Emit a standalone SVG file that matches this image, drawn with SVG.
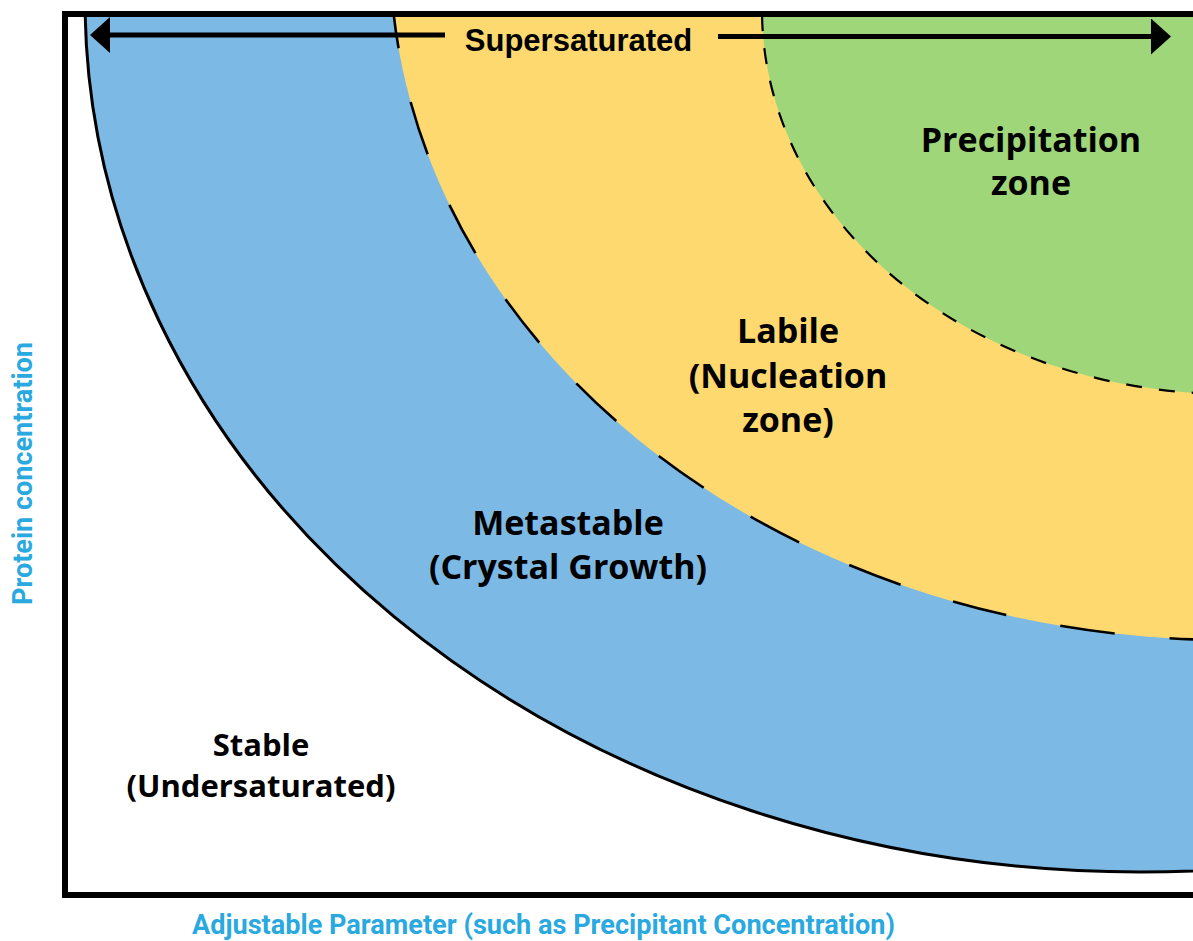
<svg xmlns="http://www.w3.org/2000/svg" width="1193" height="941" viewBox="0 0 1193 941">
  <style>
    .zone-label { font-family: "Open Sans", "Noto Sans", "Liberation Sans", sans-serif; font-weight: 700; fill: #000; text-anchor: middle; }
    .axis-label { font-family: Roboto, "Liberation Sans", sans-serif; font-weight: 700; fill: #2aa9e0; font-size: 27px; }
    .edge-solid { stroke: #000; stroke-width: 3; }
    .edge-long { stroke: #000; stroke-width: 2.6; stroke-dasharray: 55 55; }
    .edge-short { stroke: #000; stroke-width: 2.2; stroke-dasharray: 16 17; }
    .arrow-line { stroke: #000; stroke-width: 5; fill: none; }
  </style>
  <defs>
    <clipPath id="plotArea">
      <rect x="65" y="14" width="1140" height="881"/>
    </clipPath>
    <marker id="arrowHead" viewBox="0 0 20 36" markerWidth="20" markerHeight="36" refX="10" refY="18" orient="auto" markerUnits="userSpaceOnUse">
      <path d="M0,0 L20,18 L0,36 Z" fill="#000"/>
    </marker>
  </defs>

  <rect width="1193" height="941" fill="#fff"/>

  <!-- solubility zones, nested ellipses clipped to the plot frame -->
  <g clip-path="url(#plotArea)">
    <g id="metastable-zone">
      <ellipse cx="1140" cy="0" rx="1055" ry="872" fill="#7cb9e4" class="edge-solid"/>
    </g>
    <g id="labile-zone">
      <ellipse cx="1230" cy="-50" rx="840" ry="690" fill="#fed96f" class="edge-long"/>
    </g>
    <g id="precipitation-zone">
      <ellipse cx="1230" cy="10" rx="468" ry="384" fill="#a0d67a" class="edge-short"/>
    </g>
  </g>

  <!-- plot frame -->
  <g id="frame">
    <path d="M1200,14 H65 V895 H1200" fill="none" stroke="#000" stroke-width="6"/>
  </g>

  <!-- supersaturated range arrows -->
  <g id="connectors">
    <line x1="445" y1="35" x2="100" y2="35" class="arrow-line" marker-end="url(#arrowHead)"/>
    <line x1="718" y1="36.5" x2="1161" y2="36.5" class="arrow-line" marker-end="url(#arrowHead)"/>
  </g>

  <g id="supersaturated-label">
    <text x="578.5" y="51" font-family="'Liberation Sans', Arial, sans-serif" font-weight="700" font-size="31" text-anchor="middle">Supersaturated</text>
  </g>

  <g id="precipitation-label">
    <text class="zone-label" font-size="34" x="1031" y="152">Precipitation</text>
    <text class="zone-label" font-size="34" x="1031" y="195">zone</text>
  </g>

  <g id="labile-label">
    <text class="zone-label" font-size="34" x="788" y="343">Labile</text>
    <text class="zone-label" font-size="34" x="788" y="388">(Nucleation</text>
    <text class="zone-label" font-size="34" x="788" y="432">zone)</text>
  </g>

  <g id="metastable-label">
    <text class="zone-label" font-size="34" x="568" y="535">Metastable</text>
    <text class="zone-label" font-size="34" x="568" y="579">(Crystal Growth)</text>
  </g>

  <g id="stable-label">
    <text class="zone-label" font-size="31" x="261" y="756">Stable</text>
    <text class="zone-label" font-size="31" x="261" y="797">(Undersaturated)</text>
  </g>

  <!-- axis titles -->
  <g id="x-axis-title">
    <text class="axis-label" x="192" y="934" textLength="703" lengthAdjust="spacingAndGlyphs">Adjustable Parameter (such as Precipitant Concentration)</text>
  </g>
  <g id="y-axis-title">
    <text class="axis-label" transform="translate(32,605) rotate(-90)" x="0" y="0" textLength="263" lengthAdjust="spacingAndGlyphs">Protein concentration</text>
  </g>
</svg>
